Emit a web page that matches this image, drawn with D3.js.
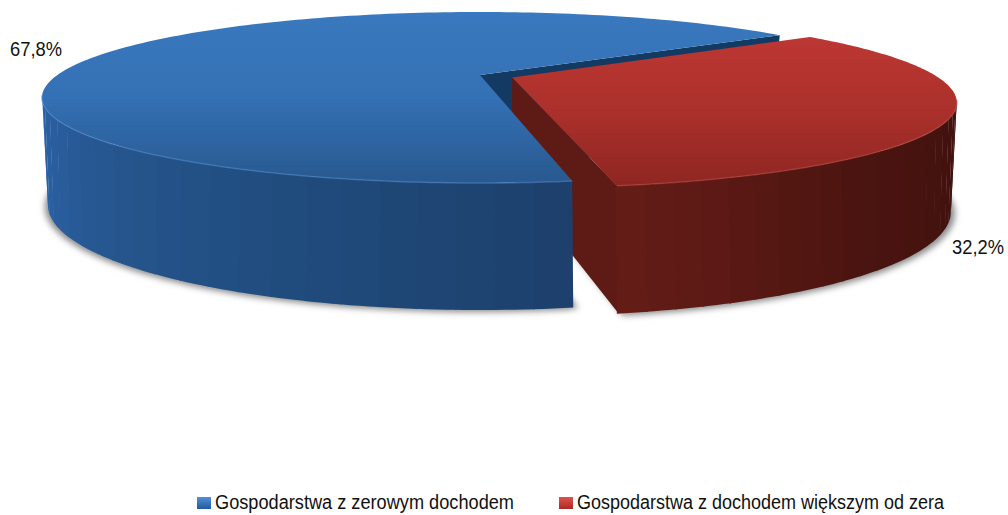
<!DOCTYPE html>
<html>
<head>
<meta charset="utf-8">
<script src="https://cdn.jsdelivr.net/npm/d3@7"></script>
<style>
  html, body { margin: 0; padding: 0; background: #fff; }
  svg { display: block; }
  text { font-family: "Liberation Sans", Arial, sans-serif; fill: #111; }
</style>
</head>
<body>
<div id="chart"></div>
<script>
// chart data
var categories = ['Gospodarstwa z zerowym dochodem', 'Gospodarstwa z dochodem większym od zera'];
var values = [67.8, 32.2];
var valueLabels = ['67,8%', '32,2%'];

var width = 1008;
var height = 515;

// the two planes of the disc, each one a perspective view of a unit circle
var topPlane = { cx: 480, cy: 75, rx: 422.6, ry: 79.6, p: 0.263 };
var bottomPlane = { cx: 480, cy: 175, rx: 414, ry: 96.4, p: 0.286 };
var explode = 0.082;
var deg = Math.PI / 180;
var pieStart = 170.7 * deg;

function project (plane, u, v) {
  var w = 1 - plane.p * v;
  return [plane.cx + plane.rx * u / w, plane.cy + plane.ry * v / w];
}

// pie angle (clockwise from the back of the disc) to a point on a plane
function rimPoint (plane, angle, off) {
  return project(plane, Math.sin(angle) + off[0], -Math.cos(angle) + off[1]);
}

var line = d3.line();

// blue starts at the front and runs round the left, red closes the circle
var pie = d3.pie().sort(null)
  .startAngle(pieStart)
  .endAngle(pieStart + 2 * Math.PI);
var arcs = pie(values);

var svg = d3.select('#chart').append('svg')
  .attr('width', width)
  .attr('height', height);
var defs = svg.append('defs');

var blur = defs.append('filter').attr('id', 'soft')
  .attr('x', '-5%').attr('y', '-10%').attr('width', '110%').attr('height', '120%');
blur.append('feGaussianBlur').attr('stdDeviation', 3);

function gradient (id, stops) {
  var g = defs.append('linearGradient').attr('id', id)
    .attr('x1', 0).attr('y1', 0).attr('x2', 0).attr('y2', 1);
  stops.forEach(function (s, i) {
    g.append('stop').attr('offset', i / (stops.length - 1)).attr('stop-color', s);
  });
}
gradient('topBlue', ['#3a79bf', '#3470b4', '#28598f']);
gradient('topRed', ['#bd3733', '#ab302b', '#8f2622']);
gradient('keyBlue', ['#4f93d8', '#1f5a9c']);
gradient('keyRed', ['#e0524c', '#a82a26']);

var mid = (arcs[1].startAngle + arcs[1].endAngle) / 2;

var blueSlice = {
  startA: arcs[0].startAngle, endA: arcs[0].endAngle, off: [0, 0],
  topFill: 'url(#topBlue)', rim: '#4a84c4', wall: '#123a62',
  sideFrom: arcs[0].startAngle, sideTo: 256 * deg,
  side: d3.scaleLinear().domain([170 * deg, 195 * deg, 225 * deg, 256 * deg])
    .range(['#1e3f6b', '#1f4a7a', '#27568f', '#2b63a9'])
};
// the smaller slice is moved out along its middle angle
var redSlice = {
  startA: arcs[1].startAngle, endA: arcs[1].endAngle,
  off: [Math.sin(mid) * explode, -Math.cos(mid) * explode],
  topFill: 'url(#topRed)', rim: '#b5443c', wall: '#5e1a14',
  sideFrom: arcs[1].endAngle - 66 * deg, sideTo: arcs[1].endAngle,
  side: d3.scaleLinear().domain([arcs[1].endAngle - 66 * deg, arcs[1].endAngle - 30 * deg, arcs[1].endAngle])
    .range(['#3f110e', '#4a1410', '#651c17'])
};

function sliceOutline (plane, s) {
  var pts = [project(plane, s.off[0], s.off[1])];
  d3.range(0, 181).forEach(function (i) {
    pts.push(rimPoint(plane, s.startA + (s.endA - s.startA) * i / 180, s.off));
  });
  return line(pts) + 'Z';
}

// shadow under both slices
var shadow = svg.append('g').attr('filter', 'url(#soft)').attr('fill', '#8a8a8a');
shadow.append('path').attr('d', sliceOutline(bottomPlane, blueSlice))
  .attr('transform', 'translate(-3,2)');
shadow.append('path').attr('d', sliceOutline(bottomPlane, redSlice))
  .attr('transform', 'translate(4,2)');
// small shadow beside the blue front edge
shadow.append('path').attr('d', sliceOutline(bottomPlane, blueSlice))
  .attr('transform', 'translate(5,1)');

// cut wall of a slice, from the centre out to one rim angle
function drawWall (g, s, angle) {
  var a = project(topPlane, s.off[0], s.off[1]);
  var b = rimPoint(topPlane, angle, s.off);
  var c = rimPoint(bottomPlane, angle, s.off);
  var d = project(bottomPlane, s.off[0], s.off[1]);
  g.append('path').attr('d', line([a, b, c, d]) + 'Z').attr('fill', s.wall);
}

// outer face as narrow vertical bands
function drawSide (g, s) {
  var n = 22;
  d3.range(n).forEach(function (i) {
    var a0 = s.sideFrom + (s.sideTo - s.sideFrom) * i / n;
    var a1 = s.sideFrom + (s.sideTo - s.sideFrom) * (i + 1) / n;
    var pts = [];
    d3.range(0, 5).forEach(function (k) {
      pts.push(rimPoint(topPlane, a0 + (a1 - a0 + 0.003) * k / 4, s.off));
    });
    d3.range(4, -1, -1).forEach(function (k) {
      pts.push(rimPoint(bottomPlane, a0 + (a1 - a0 + 0.003) * k / 4, s.off));
    });
    g.append('path').attr('d', line(pts) + 'Z').attr('fill', s.side((a0 + a1) / 2));
  });
}

function drawTop (g, s) {
  g.append('path').attr('d', sliceOutline(topPlane, s)).attr('fill', s.topFill);
  var rim = [];
  d3.range(0, 121).forEach(function (i) {
    rim.push(rimPoint(topPlane, s.sideFrom + (s.sideTo - s.sideFrom) * i / 120, s.off));
  });
  g.append('path').attr('d', line(rim)).attr('fill', 'none')
    .attr('stroke', s.rim).attr('stroke-width', 1.5).attr('stroke-opacity', 0.6);
}

var disc = svg.append('g');

// back to front: blue cut wall, red slice, then blue slice over it
drawWall(disc, blueSlice, blueSlice.endA);
drawWall(disc, redSlice, redSlice.endA);
drawSide(disc, redSlice);
drawTop(disc, redSlice);
drawSide(disc, blueSlice);
drawTop(disc, blueSlice);

// value labels
var labelPos = [[10, 56], [952, 254]];
values.forEach(function (v, i) {
  svg.append('text')
    .attr('x', labelPos[i][0])
    .attr('y', labelPos[i][1])
    .attr('font-size', 19.5)
    .attr('textLength', 52)
    .attr('lengthAdjust', 'spacingAndGlyphs')
    .text(valueLabels[i]);
});

// legend
var legendX = [197, 559];
var legendW = [299, 367];
var keyFill = ['url(#keyBlue)', 'url(#keyRed)'];
categories.forEach(function (c, i) {
  svg.append('rect')
    .attr('x', legendX[i])
    .attr('y', 497)
    .attr('width', 14)
    .attr('height', 12)
    .attr('fill', keyFill[i]);
  svg.append('text')
    .attr('x', legendX[i] + 18)
    .attr('y', 509)
    .attr('font-size', 20)
    .attr('textLength', legendW[i])
    .attr('lengthAdjust', 'spacingAndGlyphs')
    .text(c);
});
</script>
</body>
</html>
